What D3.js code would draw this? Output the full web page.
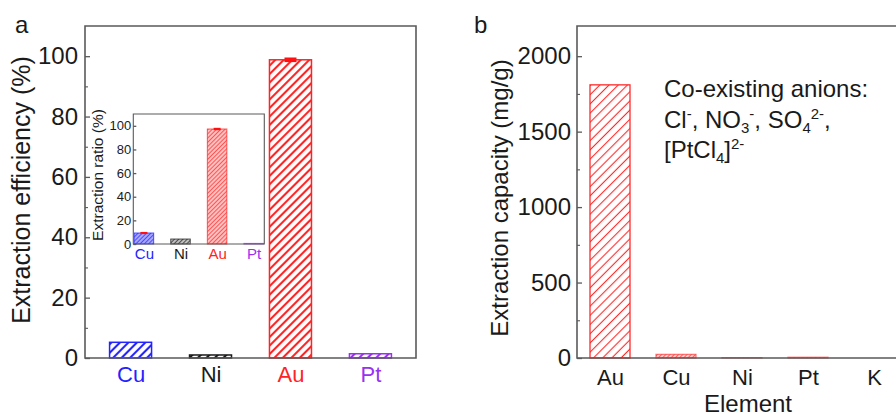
<!DOCTYPE html>
<html>
<head>
<meta charset="utf-8">
<script src="https://cdn.jsdelivr.net/npm/d3@7"></script>
<style>
  body { margin: 0; background: #fff; }
  svg { display: block; font-family: "Liberation Sans", Arial, sans-serif; }
</style>
</head>
<body>
<div class="container"></div>
<script>
// panel a: extraction efficiency
const elementsA = ["Cu", "Ni", "Au", "Pt"];
const efficiencyA = [5.2, 1.0, 98.8, 1.4];
const errorA = [0, 0, 0.4, 0];
const ticksA = [0, 20, 40, 60, 80, 100];
const minorA = [10, 30, 50, 70, 90];

// inset: extraction ratio
const ratioInset = [9.3, 4.2, 97.3, 0.5];
const errorInset = [0.4, 0, 0.5, 0];
const ticksInset = [0, 20, 40, 60, 80, 100];

// panel b: extraction capacity
const elementsB = ["Au", "Cu", "Ni", "Pt", "K"];
const capacityB = [1810, 24, 2, 5, 0];
const ticksB = [0, 500, 1000, 1500, 2000];
const minorB = [250, 750, 1250, 1750];

const colorA = { Cu: "#2323ff", Ni: "#1a1a1a", Au: "#ff2424", Pt: "#9a30f0" };
const tintInset = { Cu: "#a8a8ff", Ni: "#c0c0c0", Au: "#ffc0c0", Pt: "#dcc0ff" };
const axisColor = "#5a5a5a";
const textColor = "#1a1a1a";

const width = 896, height = 414;
const svg = d3.select(".container").append("svg")
  .attr("width", width).attr("height", height);
const defs = svg.append("defs");

function hatch(id, color, spacing, lw, bg) {
  const p = defs.append("pattern")
    .attr("id", id)
    .attr("patternUnits", "userSpaceOnUse")
    .attr("width", spacing).attr("height", spacing)
    .attr("patternTransform", "rotate(45)");
  p.append("rect").attr("width", spacing).attr("height", spacing)
    .attr("fill", bg || "#fff");
  p.append("line")
    .attr("x1", spacing / 2).attr("x2", spacing / 2)
    .attr("y1", 0).attr("y2", spacing)
    .attr("stroke", color).attr("stroke-width", lw);
}

elementsA.forEach(e => {
  hatch("hA-" + e, colorA[e], 6, 2.1);
  hatch("hI-" + e, colorA[e], 3, 0.7, tintInset[e]);
});
hatch("hB", "#ff2a2a", 6.5, 1.1);
hatch("hB2", "#ff2a2a", 3, 0.7, "#ffd0d0");

function frame(g, x0, x1, y0, y1, sw) {
  g.append("path")
    .attr("d", `M${x0},${y1}V${y0}H${x1}V${y1}Z`)
    .attr("fill", "none").attr("stroke", axisColor).attr("stroke-width", sw);
}

function yAxis(g, scale, x, major, minor, size, fontSize, pad) {
  const ax = g.append("g").attr("transform", `translate(${x},0)`)
    .call(d3.axisLeft(scale).tickValues(major).tickFormat(d3.format("d"))
      .tickSizeInner(-size).tickSizeOuter(0).tickPadding(pad));
  ax.select(".domain").remove();
  ax.selectAll("line").attr("stroke", axisColor).attr("stroke-width", 1.3);
  ax.selectAll("text").attr("font-size", fontSize).attr("fill", textColor)
    .attr("font-family", "Liberation Sans, Arial, sans-serif");
  if (minor) {
    const mx = g.append("g").attr("transform", `translate(${x},0)`)
      .call(d3.axisLeft(scale).tickValues(minor).tickSizeInner(-size * 0.6).tickSizeOuter(0).tickFormat(""));
    mx.select(".domain").remove();
    mx.selectAll("line").attr("stroke", axisColor).attr("stroke-width", 1.1);
  }
}

function xAxis(g, scale, y, fontSize, pad, colors) {
  const ax = g.append("g").attr("transform", `translate(0,${y})`)
    .call(d3.axisBottom(scale).tickSize(0).tickPadding(pad));
  ax.select(".domain").remove();
  ax.selectAll("text").attr("font-size", fontSize)
    .attr("font-family", "Liberation Sans, Arial, sans-serif")
    .attr("fill", d => colors ? colors[d] : textColor);
}

function errorBars(g, data, errs, x, y, cap, color, sw) {
  data.forEach((v, i) => {
    if (!errs[i]) return;
    const cx = x(i);
    g.append("line").attr("x1", cx).attr("x2", cx)
      .attr("y1", y(v - errs[i])).attr("y2", y(v + errs[i]))
      .attr("stroke", color).attr("stroke-width", sw);
    [v - errs[i], v + errs[i]].forEach(t => {
      g.append("line").attr("x1", cx - cap / 2).attr("x2", cx + cap / 2)
        .attr("y1", y(t)).attr("y2", y(t))
        .attr("stroke", color).attr("stroke-width", sw);
    });
  });
}

// ---------- panel a ----------
const A = { left: 85, right: 416, top: 26, bottom: 358 };
const gA = svg.append("g");
const xA = d3.scalePoint().domain(elementsA).range([A.left, A.right]).padding(0.57);
const yA = d3.scaleLinear().domain([0, 110]).range([A.bottom, A.top]);
const barA = 42;

gA.selectAll("rect.bar")
  .data(efficiencyA)
  .enter().append("rect")
  .attr("class", "bar")
  .attr("x", (d, i) => xA(elementsA[i]) - barA / 2)
  .attr("y", d => yA(d))
  .attr("width", barA)
  .attr("height", d => yA(0) - yA(d))
  .attr("fill", (d, i) => `url(#hA-${elementsA[i]})`)
  .attr("stroke", (d, i) => colorA[elementsA[i]])
  .attr("stroke-width", 1.5);

errorBars(gA, efficiencyA, errorA, i => xA(elementsA[i]), yA, 12, "#ff1010", 2.2);

frame(gA, A.left, A.right, A.top, A.bottom, 1.6);
yAxis(gA, yA, A.left, ticksA, minorA, 5, 24, 7);
xAxis(gA, xA, A.bottom, 22, 8, colorA);

gA.append("text")
  .attr("transform", `translate(30,${(A.top + A.bottom) / 2 - 2}) rotate(-90)`)
  .attr("text-anchor", "middle")
  .attr("font-size", 25).attr("fill", textColor)
  .text("Extraction efficiency (%)");

gA.append("text").attr("x", 15).attr("y", 33)
  .attr("font-size", 24).attr("fill", textColor).text("a");

// ---------- inset ----------
const I = { left: 133.3, right: 264.3, top: 114, bottom: 244 };
const gI = svg.append("g");
gI.append("rect").attr("x", I.left).attr("y", I.top)
  .attr("width", I.right - I.left).attr("height", I.bottom - I.top).attr("fill", "#fff");
const xI = d3.scalePoint().domain(elementsA).range([I.left, I.right]).padding(0.29);
const yI = d3.scaleLinear().domain([0, 110]).range([I.bottom, I.top]);
const barI = 19.5;

gI.selectAll("rect.bar")
  .data(ratioInset)
  .enter().append("rect")
  .attr("class", "bar")
  .attr("x", (d, i) => xI(elementsA[i]) - barI / 2)
  .attr("y", d => yI(d))
  .attr("width", barI)
  .attr("height", d => yI(0) - yI(d))
  .attr("fill", (d, i) => `url(#hI-${elementsA[i]})`)
  .attr("stroke", (d, i) => colorA[elementsA[i]])
  .attr("stroke-opacity", 0.75)
  .attr("stroke-width", 1);

errorBars(gI, ratioInset, errorInset, i => xI(elementsA[i]), yI, 7, "#ff1010", 1.2);

frame(gI, I.left, I.right, I.top, I.bottom, 1.1);
yAxis(gI, yI, I.left, ticksInset, null, 3, 13, 2);
xAxis(gI, xI, I.bottom, 15, 4, colorA);

gI.append("text")
  .attr("transform", `translate(103,${(I.top + I.bottom) / 2 - 4}) rotate(-90)`)
  .attr("text-anchor", "middle")
  .attr("font-size", 15.5).attr("fill", textColor)
  .text("Extraction ratio (%)");

// ---------- panel b ----------
const B = { left: 577, right: 907, top: 26, bottom: 358 };
const gB = svg.append("g");
const xB = d3.scalePoint().domain(elementsB).range([B.left, B.right]).padding(0.5);
const yB = d3.scaleLinear().domain([0, 2200]).range([B.bottom, B.top]);
const barB = 40;

gB.selectAll("rect.bar")
  .data(capacityB)
  .enter().append("rect")
  .attr("class", "bar")
  .attr("x", (d, i) => xB(elementsB[i]) - barB / 2)
  .attr("y", d => yB(d))
  .attr("width", barB)
  .attr("height", d => yB(0) - yB(d))
  .attr("fill", (d, i) => i === 0 ? "url(#hB)" : "url(#hB2)")
  .attr("stroke", "#ff2a2a")
  .attr("stroke-opacity", (d, i) => i === 0 ? 1 : 0.6)
  .attr("stroke-width", 1.3);

frame(gB, B.left, B.right, B.top, B.bottom, 1.6);
yAxis(gB, yB, B.left, ticksB, minorB, 5, 24, 6);
xAxis(gB, xB, B.bottom, 22, 11, null);

gB.append("text")
  .attr("transform", `translate(508,${(B.top + B.bottom) / 2 + 6}) rotate(-90)`)
  .attr("text-anchor", "middle")
  .attr("font-size", 24).attr("fill", textColor)
  .text("Extraction capacity (mg/g)");

gB.append("text").attr("x", 748).attr("y", 412)
  .attr("text-anchor", "middle")
  .attr("font-size", 24).attr("fill", textColor)
  .text("Element");

gB.append("text").attr("x", 474).attr("y", 33)
  .attr("font-size", 24).attr("fill", textColor).text("b");

// annotation with sub/superscripts
gB.append("text").attr("x", 664).attr("y", 97)
  .attr("font-size", 24).attr("fill", textColor)
  .text("Co-existing anions:");

const l2 = gB.append("text").attr("x", 664).attr("y", 128).attr("font-size", 24).attr("fill", textColor);
l2.append("tspan").text("Cl");
l2.append("tspan").attr("font-size", 15).attr("dy", -9).text("-");
l2.append("tspan").attr("dy", 9).text(", NO");
l2.append("tspan").attr("font-size", 15).attr("dy", 5).text("3");
l2.append("tspan").attr("font-size", 15).attr("dy", -14).text("-");
l2.append("tspan").attr("dy", 9).text(", SO");
l2.append("tspan").attr("font-size", 15).attr("dy", 5).text("4");
l2.append("tspan").attr("font-size", 15).attr("dy", -14).text("2-");
l2.append("tspan").attr("dy", 9).text(",");

const l3 = gB.append("text").attr("x", 664).attr("y", 158).attr("font-size", 24).attr("fill", textColor);
l3.append("tspan").text("[PtCl");
l3.append("tspan").attr("font-size", 15).attr("dy", 5).text("4");
l3.append("tspan").attr("dy", -5).text("]");
l3.append("tspan").attr("font-size", 15).attr("dy", -9).text("2-");
</script>
</body>
</html>
